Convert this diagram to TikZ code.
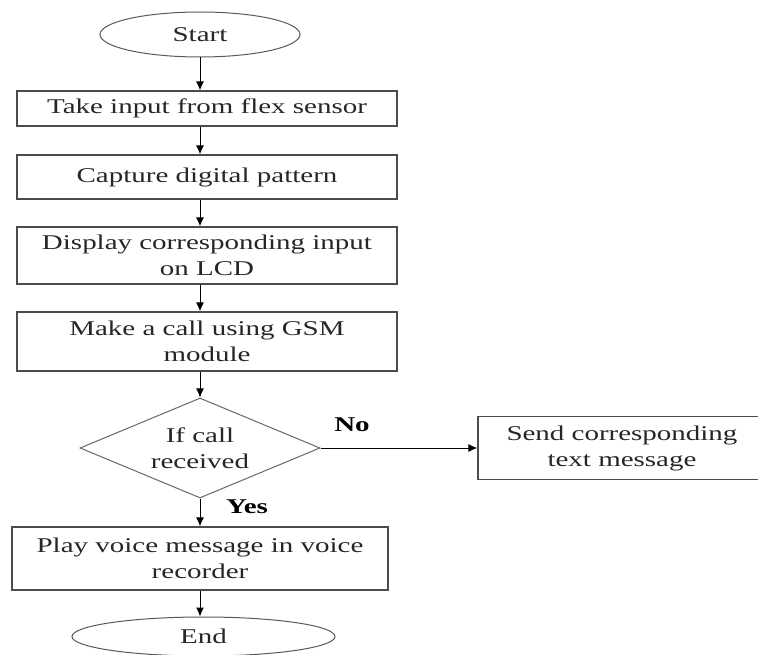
\documentclass[tikz,border=0pt]{standalone}
\usepackage{fontspec}
\setmainfont{Liberation Serif}[FakeStretch=1.38]
\usetikzlibrary{shapes,arrows.meta,calc}

\begin{document}
\begin{tikzpicture}[x=1pt, y=-1pt,
    every node/.style={font=\fontsize{21}{26}\selectfont, text=black!85},
    terminal/.style={draw=black!65, line width=1pt, ellipse, inner sep=0pt},
    process/.style={draw=black!70, line width=1.3pt, rectangle, align=center, inner sep=0pt},
    decision/.style={draw=black!60, line width=1pt, diamond, aspect=2.4, align=center, inner sep=0pt, minimum width=240pt, minimum height=100pt},
    lbl/.style={font=\fontsize{21}{26}\selectfont\bfseries, text=black},
    arr/.style={-{Latex[length=9pt,width=8pt]}, line width=1pt, black}]
    \useasboundingbox (0,0) rectangle (758,655);

    % Main column
    \node[terminal, minimum width=200pt, minimum height=45pt] (start) at (200,34.5) {Start};
    \node[process, minimum width=380pt, minimum height=35pt] (take) at (207,108.5) {Take input from flex sensor};
    \node[process, minimum width=380pt, minimum height=44pt] (capture) at (207,177) {Capture digital pattern};
    \node[process, minimum width=380pt, minimum height=57pt] (display) at (207,255.5) {Display corresponding input\\on LCD};
    \node[process, minimum width=380pt, minimum height=59pt] (call) at (207,341.5) {Make a call using GSM\\module};
    \node[decision] (check) at (200,448) {If call\\received};
    \node[process, minimum width=376pt, minimum height=63pt] (play) at (200,558.5) {Play voice message in voice\\recorder};
    \node[terminal, minimum width=263pt, minimum height=39pt] (stop) at (203.5,636.5) {End};

    % Side branch (runs off the right edge)
    \node[process, minimum width=288pt, minimum height=63pt] (send) at (622,448) {Send corresponding\\text message};

    % Arrows
    \draw[arr] (start) -- (start |- take.north);
    \draw[arr] (start |- take.south) -- (start |- capture.north);
    \draw[arr] (start |- capture.south) -- (start |- display.north);
    \draw[arr] (start |- display.south) -- (start |- call.north);
    \draw[arr] (start |- call.south) -- (check);
    \draw[arr] (check) -- (play);
    \draw[arr] (play) -- (play |- stop.north);
    \draw[arr] (check) -- (send);

    % Labels
    \node[lbl] (no) at (352,425) {No};
    \node[lbl] (yes) at (247,507) {Yes};
\end{tikzpicture}
\end{document}
